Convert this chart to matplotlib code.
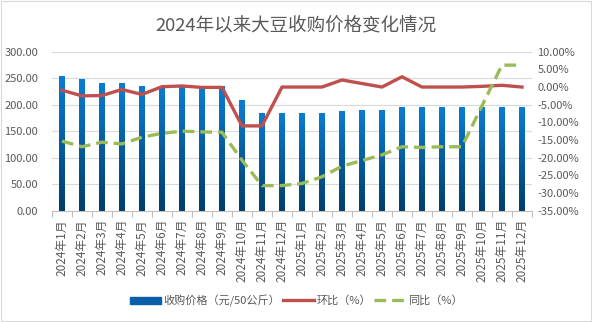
import numpy as np
import matplotlib
matplotlib.use("Agg")
import matplotlib.pyplot as plt
from matplotlib.colors import LinearSegmentedColormap
from matplotlib.ticker import FuncFormatter, MultipleLocator
from matplotlib.lines import Line2D
from matplotlib.patches import Rectangle

plt.rcParams['font.family'] = ['Noto Sans CJK SC', 'DejaVu Sans']

months = [f"2024年{m}月" for m in range(1, 13)] + [f"2025年{m}月" for m in range(1, 13)]
price = [254, 248, 241, 241, 235, 235, 235, 232, 235, 209, 185, 185,
         185, 185, 189, 190, 190, 196, 196, 196, 196, 196, 196, 196]
mom = [-0.9, -2.5, -2.4, -0.7, -2.1, 0.1, 0.3, -0.1, -0.1, -11.0, -11.0, 0.0,
       0.0, 0.0, 2.0, 1.0, 0.0, 2.9, 0.0, 0.0, 0.0, 0.2, 0.5, 0.0]
yoy = [-15.3, -16.9, -15.6, -16.1, -14.2, -13.1, -12.5, -12.7, -12.8, -20.7, -27.9, -27.9,
       -27.3, -25.4, -22.4, -20.8, -19.2, -16.9, -17.1, -16.9, -16.9, -5.3, 6.2, 6.2]

fig = plt.figure(figsize=(5.92, 3.22), dpi=100)
fig.patches.append(Rectangle((0.002, 0.003), 0.996, 0.994, transform=fig.transFigure,
                             fill=False, edgecolor='#d9d9d9', linewidth=0.8))
ax = fig.add_axes([0.0878, 0.3457, 0.8108, 0.4937])
ax2 = ax.twinx()

x = np.arange(len(months))
cmap = LinearSegmentedColormap.from_list("b", ["#003d6b", "#0a7dd4"])
bars = ax.bar(x, price, width=0.3, color='#0a6ab8', zorder=2)
grad = np.linspace(0, 1, 256).reshape(-1, 1)
for b in bars:
    bx, by, bw, bh = b.get_x(), b.get_y(), b.get_width(), b.get_height()
    im = ax.imshow(grad, cmap=cmap, origin='lower', aspect='auto',
                   extent=[bx, bx + bw, by, by + bh], zorder=2)
    im.set_clip_path(b)
    b.set_alpha(0)

ax.set_xlim(-0.5, len(months) - 0.5)
ax.set_ylim(0, 300)
ax.yaxis.set_major_locator(MultipleLocator(50))
ax.yaxis.set_major_formatter(FuncFormatter(lambda v, p: f"{v:.2f}"))
ax.grid(axis='y', color='#d9d9d9', linewidth=0.8, zorder=0)
ax.set_axisbelow(True)

ax2.plot(x, mom, color='#c0504d', linewidth=2.4, zorder=4)
ax2.plot(x, yoy, color='#9bbb59', linewidth=2.4, linestyle=(0, (3.5, 1.8)), zorder=4)
ax2.set_ylim(-35, 10)
ax2.yaxis.set_major_locator(MultipleLocator(5))
ax2.yaxis.set_major_formatter(FuncFormatter(lambda v, p: f"{v:.2f}%"))

ax.set_xticks(x)
ax.set_xticklabels(months, rotation=90, fontsize=8.5, color='#595959')
ax.set_xticks(np.arange(-0.5, len(months), 1), minor=True)
ax.tick_params(axis='x', which='major', length=0, pad=6)
ax.tick_params(axis='x', which='minor', length=4, color='#bfbfbf', width=0.8)
ax.tick_params(axis='y', length=0, labelsize=8, labelcolor='#595959', pad=10)
ax2.tick_params(axis='y', length=0, labelsize=8, labelcolor='#595959', pad=4)

for a in (ax, ax2):
    for s in a.spines.values():
        s.set_visible(False)
ax.spines['bottom'].set_visible(True)
ax.spines['bottom'].set_color('#bfbfbf')
ax.spines['bottom'].set_linewidth(0.8)

fig.text(0.5, 0.922, "2024年以来大豆收购价格变化情况", ha='center', va='center',
         fontsize=13.3, color='#595959')

handles = [Rectangle((0, 0), 1, 1, color='#0a5fa6'),
           Line2D([], [], color='#c0504d', linewidth=2.4),
           Line2D([], [], color='#9bbb59', linewidth=2.4, linestyle=(0, (3.5, 1.8)))]
labels = ["收购价格（元/50公斤）", "环比（%）", "同比（%）"]
fig.legend(handles, labels, loc='center', bbox_to_anchor=(0.5, 0.067), ncol=3,
           frameon=False, fontsize=8, labelcolor='#595959', handlelength=2.8,
           handleheight=0.6, columnspacing=0.3, handletextpad=0.2)

fig.savefig("out.png", dpi=100)
